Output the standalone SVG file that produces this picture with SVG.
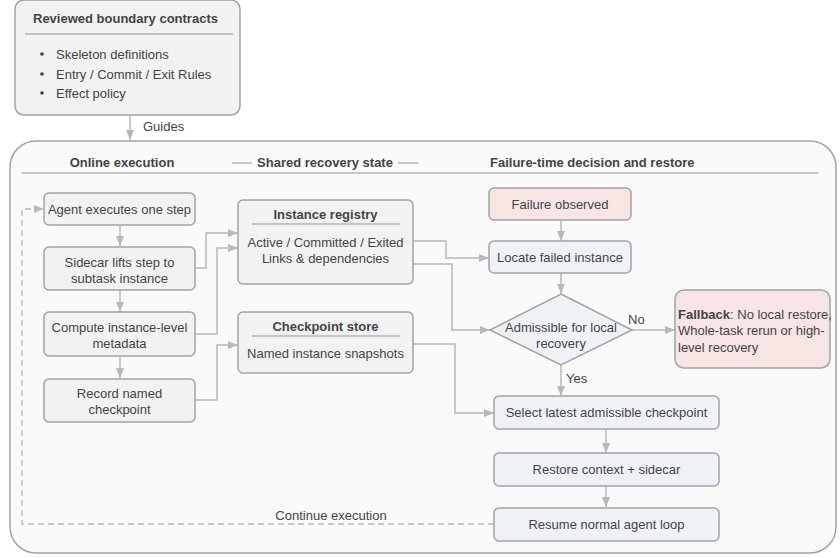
<svg xmlns="http://www.w3.org/2000/svg" width="840" height="558" viewBox="0 0 840 558">
<defs>
<style>
text{font-family:"Liberation Sans",Arial,sans-serif;font-size:13px;fill:#444;}
.b{font-weight:bold;}
.c{text-anchor:middle;}
.node{fill:#f2f2f2;stroke:#a3a3a3;stroke-width:1.5;}
.pink{fill:#f6e5e2;stroke:#a3a3a3;stroke-width:1.5;}
.blue{fill:#eef2f6;stroke:#a3a3a3;stroke-width:1.5;}
.sep{stroke:#b3b3b3;stroke-width:1.5;fill:none;}
.con{fill:none;stroke:#b8b8b8;stroke-width:1.5;}
.dash{fill:none;stroke:#b8b8b8;stroke-width:1.3;stroke-dasharray:6 4;}
</style>
<marker id="ah" markerUnits="userSpaceOnUse" markerWidth="11" markerHeight="9" refX="10" refY="4.5" orient="auto">
<path d="M0,0.5 L10,4.5 L0,8.5 z" fill="#b8b8b8"/>
</marker>
</defs>

<rect width="840" height="558" fill="#ffffff"/>

<g id="container">
<rect x="10" y="141" width="826" height="412" rx="26" fill="#fafafa" stroke="#a3a3a3" stroke-width="1.5"/>
<text class="b c" x="122" y="167">Online execution</text>
<text class="b c" x="325" y="167">Shared recovery state</text>
<line class="sep" x1="232" y1="163" x2="252" y2="163"/>
<line class="sep" x1="398" y1="163" x2="418" y2="163"/>
<text class="b" x="490" y="167">Failure-time decision and restore</text>
<line class="sep" x1="22" y1="173" x2="818" y2="173"/>
</g>

<g id="contracts">
<rect class="node" x="15" y="0" width="225" height="115" rx="9"/>
<text class="b" x="33" y="22.5">Reviewed boundary contracts</text>
<line class="sep" x1="25" y1="34" x2="233" y2="34"/>
<circle cx="42" cy="54" r="1.8" fill="#444"/>
<text x="56" y="58.5">Skeleton definitions</text>
<circle cx="42" cy="74" r="1.8" fill="#444"/>
<text x="56" y="78.5">Entry / Commit / Exit Rules</text>
<circle cx="42" cy="93" r="1.8" fill="#444"/>
<text x="56" y="97.5">Effect policy</text>
</g>

<g id="connectors">
<path class="con" d="M130,115 V140" marker-end="url(#ah)"/>
<path class="con" d="M120,225 V246" marker-end="url(#ah)"/>
<path class="con" d="M120,290 V312" marker-end="url(#ah)"/>
<path class="con" d="M120,356 V378" marker-end="url(#ah)"/>
<path class="con" d="M195,268 H206 V233 H238" marker-end="url(#ah)"/>
<path class="con" d="M195,334 H217 V248 H238" marker-end="url(#ah)"/>
<path class="con" d="M195,400 H217 V345 H238" marker-end="url(#ah)"/>
<path class="con" d="M413,241 H446 V258 H489" marker-end="url(#ah)"/>
<path class="con" d="M413,264 H452 V330 H490" marker-end="url(#ah)"/>
<path class="con" d="M413,344 H455 V413 H494" marker-end="url(#ah)"/>
<path class="con" d="M561,220 V241" marker-end="url(#ah)"/>
<path class="con" d="M561,273 V294" marker-end="url(#ah)"/>
<path class="con" d="M561,365 V396" marker-end="url(#ah)"/>
<path class="con" d="M632,330 H675" marker-end="url(#ah)"/>
<path class="con" d="M606,429 V453" marker-end="url(#ah)"/>
<path class="con" d="M606,486 V507" marker-end="url(#ah)"/>
<path class="dash" d="M494,524 H22 V209 H44" marker-end="url(#ah)"/>
<text x="143" y="131">Guides</text>
<text x="628" y="324">No</text>
<text x="566" y="383">Yes</text>
<text class="c" x="331" y="520">Continue execution</text>
</g>

<g id="agent">
<rect class="node" x="44" y="193" width="151" height="32" rx="5"/>
<text class="c" x="119.5" y="213.5">Agent executes one step</text>
</g>
<g id="sidecar">
<rect class="node" x="44" y="247" width="151" height="43" rx="5"/>
<text class="c" x="119.5" y="266.5">Sidecar lifts step to</text>
<text class="c" x="119.5" y="282.5">subtask instance</text>
</g>
<g id="compute">
<rect class="node" x="44" y="312" width="151" height="44" rx="5"/>
<text class="c" x="119.5" y="331.5">Compute instance-level</text>
<text class="c" x="119.5" y="347.5">metadata</text>
</g>
<g id="record">
<rect class="node" x="44" y="379" width="151" height="43" rx="5"/>
<text class="c" x="119.5" y="397.5">Record named</text>
<text class="c" x="119.5" y="413.5">checkpoint</text>
</g>

<g id="registry">
<rect class="node" x="238" y="200" width="175" height="84" rx="5"/>
<text class="b c" x="325.5" y="218.5">Instance registry</text>
<line class="sep" x1="252" y1="224" x2="400" y2="224"/>
<text class="c" x="325.5" y="246.5">Active / Committed / Exited</text>
<text class="c" x="325.5" y="262.5">Links &amp; dependencies</text>
</g>
<g id="checkpoint-store">
<rect class="node" x="238" y="312" width="175" height="61" rx="5"/>
<text class="b c" x="325.5" y="330.5">Checkpoint store</text>
<line class="sep" x1="252" y1="336" x2="400" y2="336"/>
<text class="c" x="325.5" y="357.5">Named instance snapshots</text>
</g>

<g id="failure">
<rect class="pink" x="489" y="188" width="142" height="32" rx="5"/>
<text class="c" x="560" y="208.5">Failure observed</text>
</g>
<g id="locate">
<rect class="blue" x="489" y="241" width="142" height="32" rx="5"/>
<text class="c" x="560" y="261.5">Locate failed instance</text>
</g>
<g id="admissible">
<polygon class="blue" points="561,294 632,330 561,365 490,330"/>
<text class="c" x="561" y="331.5">Admissible for local</text>
<text class="c" x="561" y="347.5">recovery</text>
</g>
<g id="fallback">
<rect class="pink" x="675" y="290" width="155" height="78" rx="9"/>
<text x="678" y="318.5"><tspan class="b">Fallback</tspan>: No local restore,</text>
<text x="678" y="335">Whole-task rerun or high-</text>
<text x="678" y="351.5">level recovery</text>
</g>
<g id="select">
<rect class="blue" x="494" y="396" width="225" height="33" rx="5"/>
<text class="c" x="606.5" y="416.5">Select latest admissible checkpoint</text>
</g>
<g id="restore">
<rect class="blue" x="494" y="453" width="225" height="33" rx="5"/>
<text class="c" x="606.5" y="474">Restore context + sidecar</text>
</g>
<g id="resume">
<rect class="blue" x="494" y="508" width="225" height="33" rx="5"/>
<text class="c" x="606.5" y="528.5">Resume normal agent loop</text>
</g>
</svg>
